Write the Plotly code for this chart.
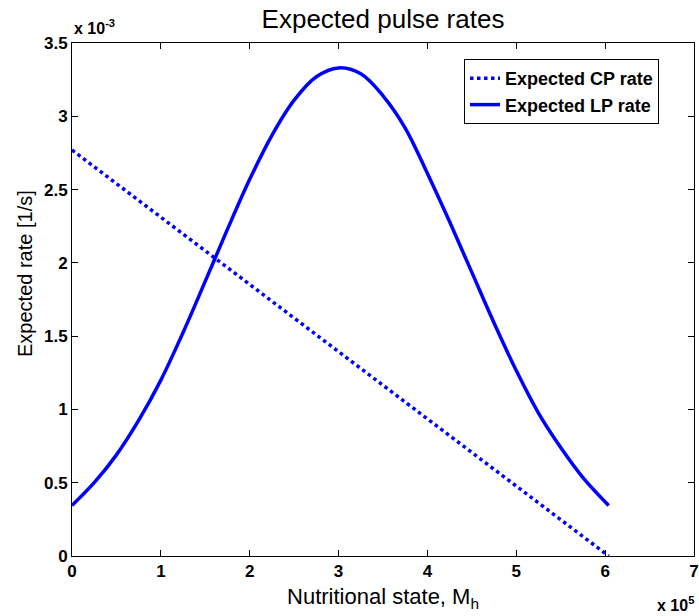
import plotly.graph_objects as go

# Nutritional state M_h (units of 1e5) and expected rates (units of 1e-3 1/s)
cp_x = [0.0, 6.04]
cp_rate = [2.77, 0.0]

lp_x = [0.0, 0.25, 0.5, 0.75, 1.0, 1.25, 1.5, 1.75, 2.0, 2.25, 2.5, 2.75, 3.0,
        3.25, 3.5, 3.75, 4.0, 4.25, 4.5, 4.75, 5.0, 5.25, 5.5, 5.75, 6.04]
lp_rate = [0.345, 0.50, 0.69, 0.925, 1.20, 1.525, 1.875, 2.23, 2.57, 2.87, 3.11, 3.27, 3.33,
           3.29, 3.14, 2.92, 2.61, 2.28, 1.935, 1.59, 1.265, 0.975, 0.74, 0.535, 0.345]

x_scale = 1e5
y_scale = 1e-3

x_ticks = [0, 1, 2, 3, 4, 5, 6, 7]
x_tick_labels = ["0", "1", "2", "3", "4", "5", "6", "7"]
y_ticks = [0, 0.5, 1, 1.5, 2, 2.5, 3, 3.5]
y_tick_labels = ["0", "0.5", "1", "1.5", "2", "2.5", "3", "3.5"]

FONT = "Liberation Sans, Arial, Helvetica, sans-serif"
BLUE = "#0000ff"

W, H = 699, 616
ML, MR, MT, MB = 72, 5, 43, 60

fig = go.Figure()
fig.add_trace(go.Scatter(
    x=[v * x_scale for v in cp_x], y=[v * y_scale for v in cp_rate],
    mode="lines", name="Expected CP rate",
    line=dict(color=BLUE, width=3.5, dash="dot"),
))
fig.add_trace(go.Scatter(
    x=[v * x_scale for v in lp_x], y=[v * y_scale for v in lp_rate],
    mode="lines", name="Expected LP rate",
    line=dict(color=BLUE, width=3.5, shape="spline", smoothing=1.0),
))

axis_common = dict(
    showline=True, linecolor="black", linewidth=1, mirror="ticks",
    ticks="inside", ticklen=6, tickcolor="black", tickwidth=1,
    showgrid=False, zeroline=False, automargin=False,
    tickfont=dict(family=FONT, size=17, color="black", weight="bold"),
)

plot_h = H - MT - MB
plot_w = W - ML - MR
fig.update_layout(
    width=W, height=H,
    margin=dict(l=ML, r=MR, t=MT, b=MB, autoexpand=False),
    paper_bgcolor="white", plot_bgcolor="white",
    title=dict(text="Expected pulse rates", x=0.5, xref="paper", xanchor="center",
               y=1 - 18.5 / H, yref="container", yanchor="middle",
               font=dict(family=FONT, size=26, color="black")),
    xaxis=dict(range=[0, 7 * x_scale],
               tickvals=[v * x_scale for v in x_ticks], ticktext=x_tick_labels,
               title=dict(text="Nutritional state, M<sub>h</sub>", standoff=8,
                          font=dict(family=FONT, size=22, color="black")),
               **axis_common),
    yaxis=dict(range=[0, 3.5 * y_scale],
               tickvals=[v * y_scale for v in y_ticks], ticktext=y_tick_labels,
               **axis_common),
    legend=dict(x=(659 - ML) / plot_w, y=(H - MB - 59) / plot_h,
                xanchor="right", yanchor="top",
                bgcolor="white", bordercolor="black", borderwidth=1,
                font=dict(family=FONT, size=18, color="black", weight="bold"),
                tracegroupgap=0, itemwidth=30),
    showlegend=True,
    annotations=[
        dict(text="Expected rate [1/s]", textangle=-90, x=0, xref="paper",
             xanchor="center", xshift=25 - ML,
             y=(H - MB - 274) / plot_h, yref="paper", yanchor="middle",
             showarrow=False,
             font=dict(family=FONT, size=20, color="black")),
        dict(text="x 10<sup>-3</sup>", x=0, y=1, xref="paper", yref="paper",
             xanchor="left", yanchor="bottom", showarrow=False, yshift=4,
             font=dict(family=FONT, size=16, color="black", weight="bold")),
        dict(text="x 10<sup>5</sup>", x=1, y=0, xref="paper", yref="paper",
             xanchor="right", yanchor="bottom", showarrow=False, yshift=-MB, xshift=2,
             font=dict(family=FONT, size=16, color="black", weight="bold")),
    ],
)

# remove the default 8px page margin so the figure fills the 699x616 window exactly
fig.write_html("out.html",
               config={"displayModeBar": False},
               post_script="document.body.style.margin='0';document.body.style.overflow='hidden';")
